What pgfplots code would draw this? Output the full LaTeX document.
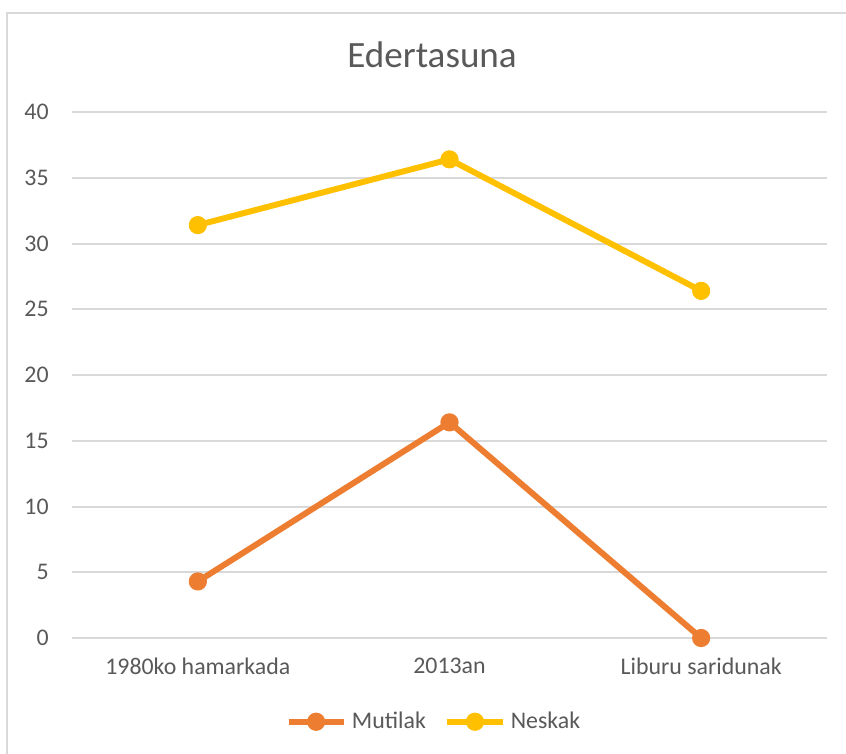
\documentclass[border=0pt]{standalone}
\usepackage{fontspec}
\setmainfont{Carlito}
\usepackage{pgfplots}
\pgfplotsset{compat=1.18}
\definecolor{txt}{HTML}{595959}
\definecolor{grd}{HTML}{D9D9D9}
\definecolor{orng}{HTML}{ED7D31}
\definecolor{yel}{HTML}{FFC000}
\begin{document}
\begin{tikzpicture}
\useasboundingbox (0,0) rectangle (319.25pt,284.53pt);
\draw[grd, line width=0.75pt] (2.64pt,0pt) -- (2.64pt,279.62pt) -- (319.25pt,279.62pt);
\begin{axis}[
  at={(27.17pt,43.77pt)}, anchor=south west,
  scale only axis, width=284.91pt, height=198.49pt,
  xmin=-0.5, xmax=2.5, ymin=0, ymax=40,
  ytick={0,5,...,40},
  xtick={0,1,2},
  xticklabels={1980ko hamarkada,2013an,Liburu saridunak},
  axis line style={draw=none},
  major tick style={draw=none},
  ymajorgrids,
  grid style={grd, line width=0.75pt},
  clip=false,
  /pgf/number format/assume math mode=true,
  tick label style={font=\fontsize{9}{11}\selectfont, text=txt},
  xticklabel style={yshift=-4.15pt},
  yticklabel style={xshift=-5.3pt},
  title={Edertasuna},
  title style={font=\fontsize{14}{17}\selectfont, text=txt, at={(0.5,1)}, anchor=center, xshift=-6.6pt, yshift=15.45pt},
  legend style={draw=none, at={(0.5,0)}, anchor=center, xshift=-5.28pt, yshift=-31.6pt,
    legend columns=2, font=\fontsize{9}{11}\selectfont, text=txt,
    /tikz/every even column/.append style={column sep=5pt}},
  legend cell align=left,
  legend image code/.code={\draw[#1, mark repeat=2, mark phase=2] plot coordinates {(0pt,0pt)(10.4pt,0pt)(20.8pt,0pt)};},
]
\addplot[orng, line width=2.25pt, line join=round, mark=*, mark size=2.3pt, mark options={solid, fill=orng}] coordinates {(0,4.3)(1,16.4)(2,0)};
\addlegendentry{Mutilak}
\addplot[yel, line width=2.25pt, line join=round, mark=*, mark size=2.3pt, mark options={solid, fill=yel}] coordinates {(0,31.4)(1,36.4)(2,26.4)};
\addlegendentry{Neskak}
\end{axis}
\end{tikzpicture}
\end{document}
